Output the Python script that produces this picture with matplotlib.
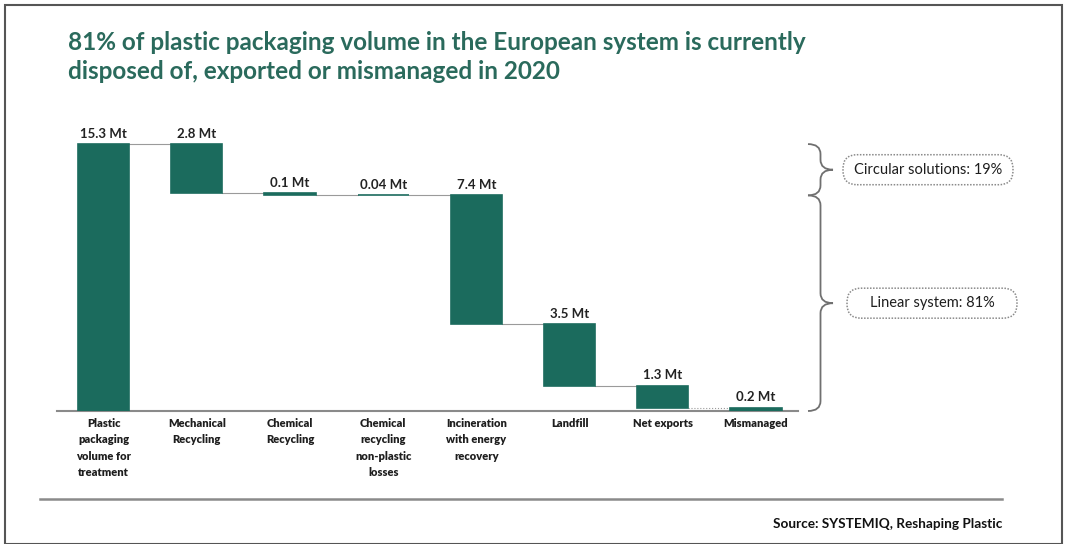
import matplotlib.pyplot as plt
from matplotlib import patches
from matplotlib.path import Path
from matplotlib.transforms import IdentityTransform

plt.rcParams['font.family'] = ['Lato', 'DejaVu Sans']

W, H = 1067, 544

title = ("81% of plastic packaging volume in the European system is currently\n"
         "disposed of, exported or mismanaged in 2020")
categories = ["Plastic\npackaging\nvolume for\ntreatment", "Mechanical\nRecycling",
              "Chemical\nRecycling", "Chemical\nrecycling\nnon-plastic\nlosses",
              "Incineration\nwith energy\nrecovery", "Landfill", "Net exports", "Mismanaged"]
values = [15.3, 2.8, 0.1, 0.04, 7.4, 3.5, 1.3, 0.2]
value_labels = ["15.3 Mt", "2.8 Mt", "0.1 Mt", "0.04 Mt", "7.4 Mt", "3.5 Mt", "1.3 Mt", "0.2 Mt"]
n_circular = 3   # mechanical, chemical, chemical losses
groups = ["Circular solutions: 19%", "Linear system: 81%"]
source = "Source: SYSTEMIQ, Reshaping Plastic"

bar_color = '#1b6b5d'
title_color = '#2a6a5c'
grey = '#9a9a9a'

fig = plt.figure(figsize=(W/100, H/100), dpi=100)

# axes placed in pixel terms of the reference
ax_l, ax_r, ax_b, ax_t = 57, 798, 411, 120
ax = fig.add_axes([ax_l/W, (H-ax_b)/H, (ax_r-ax_l)/W, (ax_b-ax_t)/H])

# waterfall: first bar is the total, the rest step down from it
bottoms = [0.0]
tops = [values[0]]
level = values[0]
for v in values[1:]:
    b = max(level - v, 0.0)
    bottoms.append(b)
    tops.append(b + v)
    level = level - v

x = list(range(len(values)))
bw = 0.55
ax.bar(x, values, bottom=bottoms, width=bw, color=bar_color,
       edgecolor=bar_color, linewidth=1.2, zorder=3)

# connector lines
levels = [tops[0]] + bottoms[1:]
for i in range(len(values) - 1):
    ax.plot([x[i] + bw/2, x[i+1] - bw/2], [levels[i], levels[i]], color=grey, lw=0.8,
            ls=':' if i == len(values) - 2 else '-', zorder=2)

for xi, t, lab in zip(x, tops, value_labels):
    ax.annotate(lab, (xi, t), xytext=(0, 3), textcoords='offset points',
                ha='center', va='bottom', fontsize=9.5, fontweight='bold', color='#222222')

ax.set_xlim(-0.5, 7.45)
ax.set_ylim(0, 16.68)
ax.set_yticks([])
ax.set_xticks(x)
ax.set_xticklabels(categories, fontsize=8, fontweight='heavy', color='#1e1e1e',
                   linespacing=1.6)
ax.tick_params(axis='x', length=0, pad=5)
for s in ['top', 'right', 'left']:
    ax.spines[s].set_visible(False)
ax.spines['bottom'].set_color('#8a8a8a')
ax.spines['bottom'].set_linewidth(1.5)
ax.set_facecolor('none')

fig.canvas.draw()


def to_px(yv):
    return ax.transData.transform((0, yv))[1]


def brace(xl, yt, yb, width, r):
    # "}" shaped brace in display pixels, ends on the left, tip to the right
    xs = xl + width * 0.5
    xt = xl + width
    ym = (yt + yb) / 2
    verts = [(xl, yt), (xs, yt), (xs, yt - r),
             (xs, ym + r), (xs, ym), (xt, ym),
             (xs, ym), (xs, ym - r),
             (xs, yb + r), (xs, yb), (xl, yb)]
    codes = [Path.MOVETO, Path.CURVE3, Path.CURVE3,
             Path.LINETO, Path.CURVE3, Path.CURVE3,
             Path.CURVE3, Path.CURVE3,
             Path.LINETO, Path.CURVE3, Path.CURVE3]
    return patches.PathPatch(Path(verts, codes), fill=False, edgecolor='#707070',
                             lw=1.3, transform=IdentityTransform())


circ_top = tops[0]
circ_bot = tops[0] - sum(values[1:1 + n_circular])
spans = [(to_px(circ_top), to_px(circ_bot)), (to_px(circ_bot), to_px(0))]
for (yt, yb), lab, (bx0, bx1) in zip(spans, groups, [(843, 1013), (847, 1017)]):
    fig.patches.append(brace(808, yt, yb, 25, 10))
    ym = (yt + yb) / 2
    box = patches.FancyBboxPatch((bx0, ym - 15), bx1 - bx0, 30,
                                 boxstyle='round,pad=0,rounding_size=14',
                                 fill=False, edgecolor='#8a8a8a', lw=1.1, ls=(0, (1, 1)),
                                 transform=IdentityTransform())
    fig.patches.append(box)
    fig.text((bx0 + bx1) / 2 / W, ym / H, lab, ha='center', va='center',
             fontsize=10.5, color='#1e1e1e')

fig.text(68/W, 1 - 57/H, title, ha='left', va='center', fontsize=17.5,
         fontweight='bold', color=title_color, linespacing=1.35)

fig.add_artist(plt.Line2D([40/W, 1002/W], [1 - 499/H, 1 - 499/H], color='#8a8a8a', lw=1.8))
fig.text(1002/W, 1 - 524/H, source, ha='right', va='center', fontsize=9.8,
         fontweight='bold', color='#111111')

fig.patches.append(patches.Rectangle((5/W, 0), 1057/W, 1 - 5/H, fill=False,
                                     edgecolor='#555555', lw=1.5,
                                     transform=fig.transFigure))

fig.savefig('out.png', dpi=100)
